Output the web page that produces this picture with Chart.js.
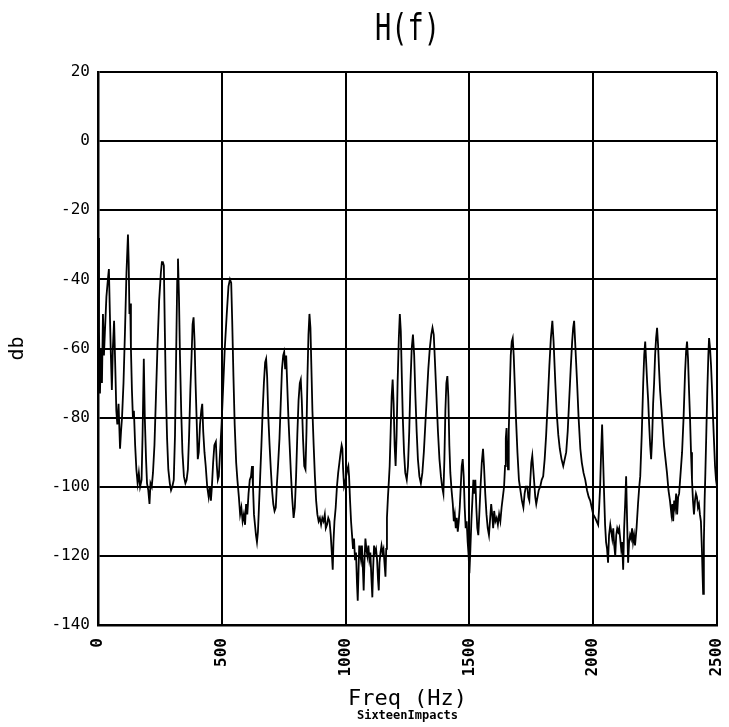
<!DOCTYPE html>
<html lang="en">
<head>
    <meta charset="UTF-8">
    <title>H(f)</title>
    <script src="https://cdn.jsdelivr.net/npm/chart.js"></script>
    <style>
        body {
            margin: 0;
            background: #fff;
        }
        .chart-box {
            width: 729px;
            height: 727px;
        }
    </style>
</head>
<body>
    <div class="chart-box">
        <canvas id="hfChart"></canvas>
    </div>

    <script>
        // frequency (Hz) and magnitude (db)
        const freqHz = [
            0,4,8,12,16,20,24,28,34,40,
            44,48,52,56,60,65,70,74,78,83,
            89,93,97,103,109,115,121,124,127,130,
            133,137,141,145,150,155,160,165,170,176,
            180,185,189,194,198,203,208,212,217,222,
            228,234,240,247,254,258,262,266,270,274,
            279,284,290,295,300,306,311,316,320,323,
            327,331,336,341,347,353,358,363,368,373,
            378,382,386,390,394,399,403,407,412,417,
            421,425,430,435,441,447,452,456,460,465,
            470,476,480,484,488,493,499,505,512,520,
            527,533,538,542,547,552,558,563,569,574,
            579,584,589,594,598,603,608,613,618,622,
            626,630,634,638,642,646,650,655,660,665,
            670,675,679,683,688,693,698,703,708,713,
            718,722,727,733,738,743,748,752,756,760,
            764,769,774,779,784,790,795,800,805,810,
            815,819,823,828,833,838,842,846,850,854,
            858,862,866,871,876,881,886,891,896,901,
            906,911,916,920,925,930,935,940,945,948,
            951,955,960,965,970,975,980,984,987,990,
            994,998,1002,1007,1011,1014,1018,1022,1026,1030,
            1034,1038,1042,1046,1049,1052,1055,1058,1062,1066,
            1070,1073,1076,1080,1084,1088,1092,1096,1100,1104,
            1108,1111,1115,1119,1123,1127,1131,1134,1137,1141,
            1145,1149,1153,1157,1161,1164,1167,1171,1175,1178,
            1182,1186,1190,1194,1198,1202,1206,1210,1215,1219,
            1223,1227,1231,1236,1241,1247,1252,1257,1262,1267,
            1272,1277,1282,1287,1292,1298,1304,1310,1316,1322,
            1328,1334,1340,1346,1351,1356,1361,1367,1373,1379,
            1385,1390,1395,1399,1403,1407,1411,1415,1419,1423,
            1428,1433,1437,1441,1445,1449,1453,1457,1461,1465,
            1469,1473,1477,1481,1485,1489,1493,1497,1500,1504,
            1508,1512,1516,1520,1524,1528,1532,1536,1540,1545,
            1550,1555,1559,1564,1569,1574,1579,1584,1588,1592,
            1596,1600,1605,1610,1615,1620,1625,1630,1635,1640,
            1644,1647,1650,1653,1656,1659,1663,1667,1671,1675,
            1679,1683,1688,1694,1700,1706,1712,1718,1723,1728,
            1734,1738,1742,1746,1750,1754,1758,1762,1766,1770,
            1775,1780,1786,1792,1798,1804,1810,1816,1823,1829,
            1835,1840,1847,1853,1859,1865,1872,1879,1885,1891,
            1897,1903,1909,1915,1919,1923,1927,1931,1935,1941,
            1948,1954,1961,1968,1975,1982,1988,1994,2000,2008,
            2014,2020,2024,2028,2032,2036,2040,2044,2048,2052,
            2056,2060,2064,2069,2073,2077,2081,2085,2089,2093,
            2097,2101,2105,2109,2113,2117,2121,2125,2129,2133,
            2137,2141,2145,2149,2153,2157,2161,2165,2169,2175,
            2181,2186,2190,2196,2202,2206,2210,2214,2218,2222,
            2226,2230,2234,2238,2242,2246,2250,2254,2258,2262,
            2266,2270,2274,2280,2286,2292,2298,2304,2310,2316,
            2320,2323,2327,2331,2335,2339,2343,2347,2353,2359,
            2365,2371,2375,2379,2383,2387,2391,2395,2399,2403,
            2407,2411,2415,2419,2423,2427,2431,2435,2439,2442,
            2444,2447,2450,2453,2457,2461,2465,2468,2472,2476,
            2480,2484,2488,2492,2496,2500
        ];
        const dbVals = [
            -28,-55,-73,-60,-70,-50,-62,-55,-45,-40,
            -37,-50,-62,-72,-60,-52,-66,-78,-82,-76,
            -89,-84,-80,-70,-55,-38,-27,-35,-50,-47,
            -60,-72,-80,-78,-88,-95,-99,-96,-100,-98,
            -85,-63,-80,-92,-99,-101,-105,-99,-100,-96,
            -88,-74,-60,-46,-38,-35,-35,-36,-55,-72,
            -86,-95,-99,-101,-100,-98,-85,-60,-40,-34,
            -45,-62,-78,-90,-97,-99,-98,-95,-85,-72,
            -62,-53,-51,-58,-70,-82,-92,-90,-82,-78,
            -76,-84,-90,-94,-100,-103,-100,-104,-100,-93,
            -88,-87,-94,-98,-97,-90,-82,-72,-60,-50,
            -42,-40,-41,-52,-68,-82,-93,-98,-103,-108,
            -106,-110,-108,-111,-105,-108,-102,-98,-97,-94,
            -100,-108,-111,-114,-116,-113,-106,-97,-88,-78,
            -70,-64,-63,-68,-80,-88,-95,-101,-105,-107,
            -106,-100,-94,-86,-76,-66,-62,-61,-66,-62,
            -70,-80,-88,-96,-103,-109,-106,-97,-85,-75,
            -70,-69,-75,-86,-94,-95,-84,-68,-56,-50,
            -54,-66,-78,-88,-97,-104,-108,-110,-109,-111,
            -109,-110,-108,-112,-111,-109,-110,-114,-120,-124,
            -116,-110,-106,-100,-96,-93,-90,-88,-89,-95,
            -100,-99,-97,-95,-94,-97,-104,-110,-114,-118,
            -115,-121,-119,-128,-133,-125,-117,-119,-121,-117,
            -124,-130,-122,-115,-118,-120,-117,-121,-119,-126,
            -132,-124,-117,-119,-118,-121,-127,-130,-122,-119,
            -117,-119,-118,-122,-126,-118,-109,-103,-98,-94,
            -84,-74,-69,-76,-88,-94,-85,-70,-57,-50,
            -55,-68,-80,-90,-96,-98,-94,-84,-70,-60,
            -56,-62,-74,-84,-92,-97,-99,-96,-90,-82,
            -74,-66,-60,-56,-54,-56,-64,-74,-84,-92,
            -97,-100,-102,-92,-78,-70,-68,-74,-88,-96,
            -101,-105,-110,-108,-112,-109,-113,-110,-106,-100,
            -94,-92,-97,-106,-112,-110,-116,-120,-125,-118,
            -110,-104,-98,-102,-98,-106,-112,-114,-108,-100,
            -93,-89,-94,-102,-108,-112,-114,-109,-105,-108,
            -112,-107,-110,-109,-111,-108,-110,-106,-103,-100,
            -94,-86,-83,-90,-95,-84,-72,-62,-58,-57,
            -62,-70,-80,-90,-98,-101,-104,-106,-102,-100,
            -100,-103,-104,-98,-93,-91,-95,-99,-103,-105,
            -103,-101,-100,-98,-97,-92,-85,-76,-65,-57,
            -52,-58,-70,-79,-85,-89,-92,-94,-92,-90,
            -84,-75,-66,-58,-54,-52,-58,-64,-70,-80,
            -89,-93,-96,-98,-101,-103,-104,-106,-108,-109,
            -110,-111,-106,-100,-90,-82,-92,-102,-111,-116,
            -118,-122,-114,-111,-113,-115,-112,-117,-120,-114,
            -112,-113,-112,-115,-118,-116,-124,-112,-105,-97,
            -110,-122,-116,-114,-115,-112,-116,-114,-117,-112,
            -105,-100,-97,-85,-70,-62,-58,-64,-70,-75,
            -82,-88,-92,-86,-76,-70,-62,-57,-54,-59,
            -66,-72,-76,-82,-88,-92,-96,-101,-104,-108,
            -105,-110,-104,-106,-102,-108,-103,-102,-96,-90,
            -80,-67,-61,-58,-63,-72,-80,-90,-98,-104,
            -108,-104,-102,-103,-106,-105,-108,-110,-118,-126,
            -131,-116,-104,-96,-84,-72,-62,-57,-60,-65,
            -72,-80,-87,-94,-98,-100
        ];

        const xTicks = [0, 500, 1000, 1500, 2000, 2500];
        const yTicks = [20, 0, -20, -40, -60, -80, -100, -120, -140];

        const chartTitle = 'H(f)';
        const xTitle = 'Freq (Hz)';
        const yTitle = 'db';
        const footNote = 'SixteenImpacts';

        const points = freqHz.map((f, i) => ({ x: f, y: dbVals[i] }));

        // title and the small run name, centred over the plot area
        const headerFooter = {
            id: 'headerFooter',
            afterDraw(chart) {
                const ctx = chart.ctx;
                const area = chart.chartArea;
                const cx = (area.left + area.right) / 2;
                ctx.save();
                ctx.fillStyle = '#000';
                ctx.textAlign = 'center';
                ctx.textBaseline = 'middle';
                ctx.translate(cx, 31);
                ctx.scale(1, 1.35);
                ctx.font = '27px "DejaVu Sans Mono"';
                ctx.fillText(chartTitle, 0, 0);
                ctx.restore();

                ctx.save();
                ctx.fillStyle = '#000';
                ctx.textAlign = 'center';
                ctx.textBaseline = 'middle';
                ctx.font = 'bold 12px "DejaVu Sans Mono"';
                ctx.fillText(footNote, cx, 716);
                ctx.restore();
            }
        };

        new Chart(document.getElementById('hfChart'), {
            type: 'line',
            data: {
                datasets: [{
                    label: 'H(f)',
                    data: points,
                    borderColor: '#000',
                    borderWidth: 1.8,
                    pointRadius: 0,
                    tension: 0,
                    fill: false
                }]
            },
            options: {
                responsive: true,
                maintainAspectRatio: false,
                animation: false,
                layout: {
                    padding: { top: 72, right: 12, bottom: 0, left: 0 }
                },
                plugins: {
                    legend: { display: false },
                    tooltip: { enabled: false }
                },
                scales: {
                    x: {
                        type: 'linear',
                        min: 0,
                        max: 2500,
                        afterBuildTicks: scale => {
                            scale.ticks = xTicks.map(v => ({ value: v }));
                        },
                        afterFit: scale => {
                            scale.height = 102;
                            scale.paddingLeft = 0;
                            scale.paddingRight = 0;
                        },
                        ticks: {
                            autoSkip: false,
                            minRotation: 90,
                            maxRotation: 90,
                            padding: 13,
                            color: '#000',
                            font: { family: 'DejaVu Sans Mono', size: 16, weight: 'bold' },
                            callback: v => String(v)
                        },
                        grid: { color: '#000', lineWidth: 2, drawTicks: false },
                        border: { color: '#000', width: 2.5 },
                        title: {
                            display: true,
                            text: xTitle,
                            color: '#000',
                            font: { family: 'DejaVu Sans Mono', size: 22 },
                            padding: { top: 0, bottom: 15 }
                        }
                    },
                    y: {
                        min: -140,
                        max: 20,
                        afterBuildTicks: scale => {
                            scale.ticks = yTicks.map(v => ({ value: v }));
                        },
                        afterFit: scale => { scale.width = 98; },
                        ticks: {
                            padding: 8,
                            color: '#000',
                            font: { family: 'DejaVu Sans Mono', size: 16 },
                            callback: v => String(v)
                        },
                        grid: { color: '#000', lineWidth: 2, drawTicks: false },
                        border: { color: '#000', width: 2.5 },
                        title: {
                            display: true,
                            text: yTitle,
                            color: '#000',
                            font: { family: 'DejaVu Sans Mono', size: 20 },
                            padding: { top: 6, bottom: 0 }
                        }
                    }
                }
            },
            plugins: [headerFooter]
        });
    </script>
</body>
</html>
